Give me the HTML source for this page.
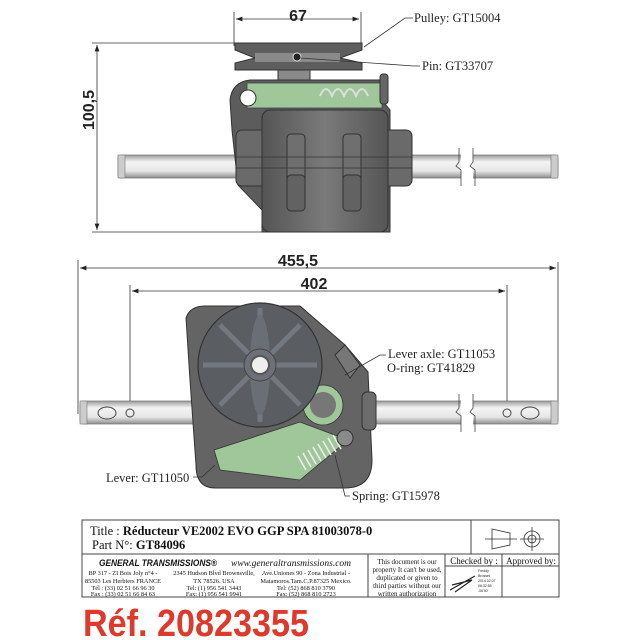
<!DOCTYPE html>
<html><head><meta charset="utf-8"><style>
html,body{margin:0;padding:0;background:#fff;}
svg{display:block;}
.s{font-family:"Liberation Serif",serif;}
.a{font-family:"Liberation Sans",sans-serif;}
</style></head><body>
<svg width="640" height="640" viewBox="0 0 640 640" xmlns="http://www.w3.org/2000/svg">
<defs>
<linearGradient id="sh" x1="0" y1="0" x2="0" y2="1"><stop offset="0" stop-color="#9a9a9a"/><stop offset="0.3" stop-color="#f4f4f4"/><stop offset="0.7" stop-color="#e6e6e6"/><stop offset="1" stop-color="#8e8e8e"/></linearGradient>
<linearGradient id="hb" x1="0" y1="0" x2="1" y2="0"><stop offset="0" stop-color="#555"/><stop offset="0.5" stop-color="#7a7a7a"/><stop offset="1" stop-color="#555"/></linearGradient>
<marker id="ar" markerWidth="8" markerHeight="6" refX="8" refY="3" orient="auto-start-reverse"><path d="M0,0 L8,3 L0,6z" fill="#222"/></marker>
</defs>

<!-- ===== TOP VIEW ===== -->
<line x1="234" y1="12" x2="234" y2="46" stroke="#333" stroke-width="0.8"/>
<line x1="361" y1="12" x2="361" y2="46" stroke="#333" stroke-width="0.8"/>
<line x1="236" y1="19" x2="359" y2="19" stroke="#333" stroke-width="0.8" marker-start="url(#ar)" marker-end="url(#ar)"/>
<text x="298" y="21" class="a" font-size="16" font-weight="bold" text-anchor="middle" fill="#222">67</text>
<line x1="92" y1="43" x2="240" y2="43" stroke="#333" stroke-width="0.8"/>
<line x1="92" y1="232" x2="262" y2="232" stroke="#333" stroke-width="0.8"/>
<line x1="97" y1="45" x2="97" y2="230" stroke="#333" stroke-width="0.8" marker-start="url(#ar)" marker-end="url(#ar)"/>
<text x="0" y="0" class="a" font-size="16" font-weight="bold" text-anchor="middle" fill="#222" transform="translate(94,110) rotate(-90)">100,5</text>

<rect x="118" y="155" width="440" height="23" rx="3" fill="url(#sh)" stroke="#777" stroke-width="0.8"/>
<rect x="118" y="155" width="7" height="23" fill="#ccc" stroke="#777" stroke-width="0.6"/>
<rect x="551" y="155" width="7" height="23" fill="#ccc" stroke="#777" stroke-width="0.6"/>
<rect x="461" y="148" width="12" height="38" fill="#fff"/>
<path d="M459,148 V162 L456,166 L461,170 V186 M473,148 V162 L470,166 L475,170 V186" fill="none" stroke="#444" stroke-width="0.8"/>

<path d="M230,100 Q232,82 250,80 L380,80 L382,100 L390,110 L390,232 L262,232 L262,210 L238,185 L232,130z" fill="#5c5c5c" stroke="#333"/>
<rect x="247" y="83" width="135" height="25" fill="#9fc79a" stroke="#444" stroke-width="0.8"/>
<path d="M320,96 q6,-14 12,0 q6,-14 12,0 q6,-14 12,0 q6,-14 12,0" fill="none" stroke="#ddd" stroke-width="2"/>
<circle cx="248" cy="98" r="8" fill="#fff" stroke="#333"/>
<rect x="236" y="130" width="176" height="56" rx="6" fill="#6a6a6a" stroke="#333"/>
<rect x="262" y="110" width="126" height="122" rx="8" fill="url(#hb)" stroke="#333"/>
<rect x="287" y="134" width="18" height="48" rx="4" fill="#6f6f6f" stroke="#333"/>
<rect x="343" y="134" width="18" height="48" rx="4" fill="#6f6f6f" stroke="#333"/>
<rect x="287" y="175" width="18" height="36" rx="4" fill="#626262" stroke="#333"/>
<rect x="343" y="175" width="18" height="36" rx="4" fill="#626262" stroke="#333"/>
<line x1="236" y1="157" x2="412" y2="157" stroke="#333" stroke-width="0.8"/>
<line x1="236" y1="168" x2="412" y2="168" stroke="#333" stroke-width="0.8"/>
<rect x="380" y="74" width="8" height="30" rx="3" fill="#666" stroke="#333"/>
<rect x="278" y="68" width="32" height="12" fill="#8a8a8a" stroke="#333"/>
<path d="M235,43 L362,43 L362,50 L340,58 L362,63 L362,70 L235,70 L235,63 L255,58 L235,50z" fill="#5e5e5e" stroke="#333"/>
<rect x="255" y="53" width="85" height="9" fill="#8a8a8a"/>
<circle cx="297" cy="57" r="4" fill="#222" stroke="#ddd"/>
<polyline points="364,47 405,18 413,18" fill="none" stroke="#333" stroke-width="0.8"/>
<text x="414" y="22" class="s" font-size="12.5" fill="#222">Pulley:  GT15004</text>
<polyline points="300,58 414,66 420,66" fill="none" stroke="#333" stroke-width="0.8"/>
<text x="422" y="70" class="s" font-size="12.5" fill="#222">Pin:  GT33707</text>

<!-- ===== BOTTOM VIEW ===== -->
<line x1="78" y1="260" x2="78" y2="414" stroke="#333" stroke-width="0.8"/>
<line x1="558" y1="262" x2="558" y2="405" stroke="#333" stroke-width="0.8"/>
<line x1="80" y1="268" x2="556" y2="268" stroke="#333" stroke-width="0.8" marker-start="url(#ar)" marker-end="url(#ar)"/>
<text x="298" y="266" class="a" font-size="16" font-weight="bold" text-anchor="middle" fill="#222">455,5</text>
<line x1="130" y1="285" x2="130" y2="420" stroke="#333" stroke-width="0.8"/>
<line x1="507" y1="285" x2="507" y2="420" stroke="#333" stroke-width="0.8"/>
<line x1="132" y1="291" x2="505" y2="291" stroke="#333" stroke-width="0.8" marker-start="url(#ar)" marker-end="url(#ar)"/>
<text x="314" y="289" class="a" font-size="16" font-weight="bold" text-anchor="middle" fill="#222">402</text>

<rect x="80" y="401" width="478" height="23" rx="3" fill="url(#sh)" stroke="#777" stroke-width="0.8"/>
<rect x="80" y="401" width="7" height="23" fill="#ccc" stroke="#777" stroke-width="0.6"/>
<rect x="551" y="401" width="7" height="23" fill="#ccc" stroke="#777" stroke-width="0.6"/>
<ellipse cx="107" cy="413" rx="9" ry="6" fill="none" stroke="#444"/>
<circle cx="130" cy="413" r="4" fill="none" stroke="#444"/>
<ellipse cx="530" cy="413" rx="9" ry="6" fill="none" stroke="#444"/>
<circle cx="507" cy="413" r="4" fill="none" stroke="#444"/>
<rect x="461" y="394" width="12" height="38" fill="#fff"/>
<path d="M459,394 V408 L456,412 L461,416 V432 M473,394 V408 L470,412 L475,416 V432" fill="none" stroke="#444" stroke-width="0.8"/>

<path d="M186,318 Q190,306 205,306 L300,306 L345,345 L368,372 L372,460 Q372,488 345,488 L215,488 Q196,488 196,465 L190,380z" fill="#646464" stroke="#333"/>
<rect x="362" y="392" width="14" height="38" rx="5" fill="#6c6c6c" stroke="#333"/>
<path d="M214,450 L300,422 L348,440 L300,480 L220,470z" fill="#9fc79a" stroke="#333" stroke-width="0.8"/>
<circle cx="323" cy="405" r="20" fill="#9fc79a" stroke="#333" stroke-width="0.8"/>
<circle cx="323" cy="405" r="13" fill="#777"/>
<g stroke="#eee" stroke-width="1.6">
<line x1="306" y1="470" x2="298" y2="456"/><line x1="311" y1="467" x2="303" y2="453"/><line x1="316" y1="464" x2="308" y2="450"/><line x1="321" y1="461" x2="313" y2="447"/><line x1="326" y1="458" x2="318" y2="444"/><line x1="331" y1="455" x2="323" y2="441"/><line x1="336" y1="452" x2="328" y2="438"/><line x1="341" y1="449" x2="333" y2="435"/>
</g>
<circle cx="345" cy="438" r="8" fill="#8a8a8a" stroke="#333"/>
<path d="M345,345 L360,365 L350,378 L335,355z" fill="#777" stroke="#333"/>
<circle cx="260" cy="365" r="62" fill="#5a5d62" stroke="#333" stroke-width="1.2"/>
<g stroke="#737780" stroke-width="5">
<line x1="260" y1="308" x2="260" y2="422"/><line x1="203" y1="365" x2="317" y2="365"/>
<line x1="220" y1="325" x2="300" y2="405"/><line x1="300" y1="325" x2="220" y2="405"/>
</g>
<ellipse cx="260" cy="365" rx="10" ry="50" fill="#6a6e75"/>
<circle cx="260" cy="365" r="16" fill="#6c7078" stroke="#444"/>
<circle cx="260" cy="365" r="9" fill="#eee" stroke="#555" stroke-width="2"/>
<polyline points="345,375 380,355 386,355" fill="none" stroke="#333" stroke-width="0.8"/>
<text x="388" y="358" class="s" font-size="12.5" fill="#222">Lever axle:  GT11053</text>
<text x="387" y="372" class="s" font-size="12.5" fill="#222">O-ring:  GT41829</text>
<polyline points="193,477 202,477 215,465" fill="none" stroke="#333" stroke-width="0.8"/>
<text x="106" y="482" class="s" font-size="12.5" fill="#222">Lever:  GT11050</text>
<polyline points="335,455 345,496 350,496" fill="none" stroke="#333" stroke-width="0.8"/>
<text x="352" y="500" class="s" font-size="12.5" fill="#222">Spring:  GT15978</text>

<!-- ===== TITLE BLOCK ===== -->
<g stroke="#444" stroke-width="1" fill="none">
<rect x="82" y="520" width="477" height="77"/>
<line x1="82" y1="554" x2="559" y2="554"/>
<line x1="471" y1="520" x2="471" y2="554"/>
<line x1="368" y1="554" x2="368" y2="597"/>
<line x1="445" y1="554" x2="445" y2="597"/>
<line x1="502" y1="554" x2="502" y2="597"/>
<line x1="445" y1="566" x2="559" y2="566"/>
</g>
<path d="M492,529 L510,533 L510,545 L492,549z M485,539 L517,539" fill="none" stroke="#333" stroke-width="0.8"/>
<circle cx="532" cy="539" r="8" fill="none" stroke="#333" stroke-width="0.8"/>
<circle cx="532" cy="539" r="4" fill="none" stroke="#333" stroke-width="0.8"/>
<path d="M520,539 H544 M532,527 V551" stroke="#333" stroke-width="0.8"/>
<text x="90" y="535" class="s" font-size="12.5" fill="#111">Title : <tspan font-weight="bold">Réducteur VE2002 EVO GGP SPA 81003078-0</tspan></text>
<text x="92" y="549" class="s" font-size="12.5" fill="#111">Part N°:  <tspan font-weight="bold">GT84096</tspan></text>
<text x="99" y="566" class="a" font-size="9.5" font-weight="bold" font-style="italic" fill="#111" textLength="118" lengthAdjust="spacingAndGlyphs">GENERAL TRANSMISSIONS®</text>
<text x="231" y="566" class="s" font-size="9" font-style="italic" fill="#111" textLength="120" lengthAdjust="spacingAndGlyphs">www.generaltransmissions.com</text>
<g class="s" font-size="6.3" fill="#111" text-anchor="middle">
<text x="123" y="575">BP 317 - ZI Bois Joly n°4 -</text>
<text x="123" y="583">85503 Les Herbiers FRANCE</text>
<text x="123" y="590">Tél : (33) 02 51 66 96 30</text>
<text x="123" y="596">Fax : (33) 02 51 66 84 63</text>
<text x="214" y="575">2345 Hudson Blvd Brownsville,</text>
<text x="214" y="583">TX 78526. USA</text>
<text x="214" y="590">Tel: (1) 956 541 3443</text>
<text x="214" y="596">Fax: (1) 956 541 9941</text>
<text x="306" y="575">Ave.Uniones 90 - Zona Industrial -</text>
<text x="306" y="583">Matamoros.Tam.C.P.87325 Mexico.</text>
<text x="306" y="590">Tel: (52) 868 810 3790</text>
<text x="306" y="596">Fax: (52) 868 810 2723</text>
</g>
<g class="s" font-size="7" fill="#111" text-anchor="middle">
<text x="407" y="564">This document is our</text>
<text x="407" y="572">property It can't be used,</text>
<text x="407" y="580">duplicated or given to</text>
<text x="407" y="588">third parties without our</text>
<text x="407" y="596">written authorization</text>
</g>
<text x="474" y="564" class="s" font-size="9" text-anchor="middle" fill="#111">Checked by :</text>
<text x="531" y="564" class="s" font-size="9" text-anchor="middle" fill="#111">Approved by:</text>
<path d="M450,590 L475,576 M452,585 L472,580 L455,592" fill="none" stroke="#222" stroke-width="1.2"/>
<g class="a" font-size="3.5" fill="#222"><text x="478" y="572">Freddy</text><text x="478" y="577">Brosset</text><text x="478" y="582">2014.02.07</text><text x="478" y="587">06:32:59</text><text x="478" y="592">-06'00'</text></g>

<text x="83" y="636" class="a" font-size="38" font-weight="bold" fill="#dc3a2c" textLength="226" lengthAdjust="spacingAndGlyphs">Réf. 20823355</text>
</svg>
</body></html>
